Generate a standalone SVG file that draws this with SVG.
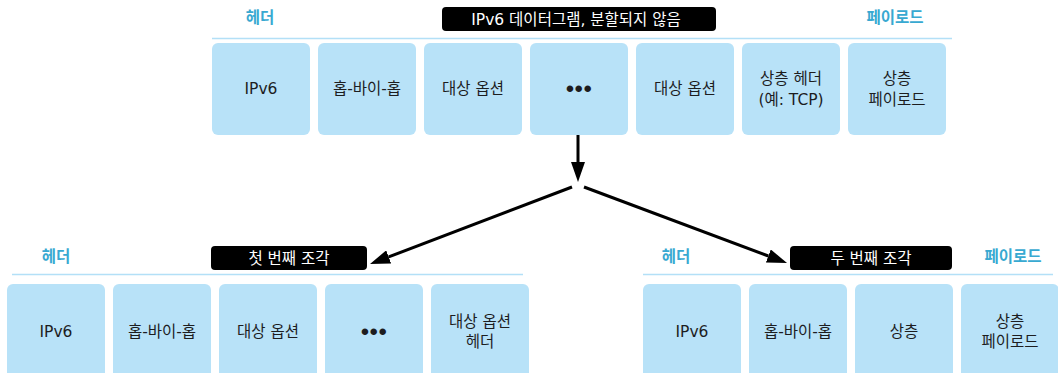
<svg xmlns="http://www.w3.org/2000/svg" width="1058" height="373" viewBox="0 0 1058 373">
<style>
.box{fill:#b8e2f8;}
.bt{font-family:"DejaVu Sans","Noto Sans CJK KR",sans-serif;font-size:15.5px;fill:#1d1d1f;text-anchor:middle;}
.dots{font-family:"Liberation Sans",sans-serif;font-size:24px;letter-spacing:0.5px;fill:#1d1d1f;text-anchor:middle;}
.hd{font-family:"Liberation Sans","Noto Sans CJK KR",sans-serif;font-size:15.5px;font-weight:bold;fill:#38a9d1;text-anchor:middle;}
.rule{stroke:#b3e0f7;stroke-width:1.5;fill:none;}
.tag{fill:#000;}
.tt{font-family:"DejaVu Sans","Noto Sans CJK KR",sans-serif;font-size:15.5px;fill:#fff;text-anchor:middle;}
.arr{stroke:#000;stroke-width:3;fill:none;marker-end:url(#ah);}
</style>
<defs>
<marker id="ah" markerUnits="userSpaceOnUse" markerWidth="20" markerHeight="14" viewBox="0 -7 20 14" refX="0" refY="0" orient="auto">
<path d="M0,-7 L20,0 L0,7 z" fill="#000"/>
</marker>
</defs>
<rect width="1058" height="373" fill="#fff"/>

<g id="top-header">
<text class="hd" x="260" y="23">헤더</text>
<text class="hd" x="895" y="23">페이로드</text>
<line class="rule" x1="212" y1="38.5" x2="952" y2="38.5"/>
<rect class="tag" x="442" y="7" width="274" height="24" rx="4"/>
<text class="tt" x="576" y="24.5">IPv6 데이터그램, 분할되지 않음</text>
</g>
<g id="t1"><rect class="box" x="212" y="43" width="98" height="92" rx="6"/><text class="bt" x="261" y="94">IPv6</text></g>
<g id="t2"><rect class="box" x="318" y="43" width="98" height="92" rx="6"/><text class="bt" x="367" y="94">홉-바이-홉</text></g>
<g id="t3"><rect class="box" x="424" y="43" width="98" height="92" rx="6"/><text class="bt" x="473" y="94">대상 옵션</text></g>
<g id="t4"><rect class="box" x="530" y="43" width="98" height="92" rx="6"/><text class="dots" x="579" y="97">•••</text></g>
<g id="t5"><rect class="box" x="636" y="43" width="98" height="92" rx="6"/><text class="bt" x="685" y="94">대상 옵션</text></g>
<g id="t6"><rect class="box" x="742" y="43" width="98" height="92" rx="6"/><text class="bt" x="791" y="84">상층 헤더</text><text class="bt" x="791" y="105">(예: TCP)</text></g>
<g id="t7"><rect class="box" x="848" y="43" width="98" height="92" rx="6"/><text class="bt" x="897" y="84">상층</text><text class="bt" x="897" y="105">페이로드</text></g>

<g id="left-header">
<text class="hd" x="56" y="262">헤더</text>
<line class="rule" x1="12" y1="274.5" x2="523" y2="274.5"/>
<rect class="tag" x="211" y="246" width="156" height="24" rx="4"/>
<text class="tt" x="289" y="263.5">첫 번째 조각</text>
</g>
<g id="l1"><rect class="box" x="7" y="284" width="98" height="100" rx="6"/><text class="bt" x="56" y="337">IPv6</text></g>
<g id="l2"><rect class="box" x="113" y="284" width="98" height="100" rx="6"/><text class="bt" x="162" y="337">홉-바이-홉</text></g>
<g id="l3"><rect class="box" x="219" y="284" width="98" height="100" rx="6"/><text class="bt" x="268" y="337">대상 옵션</text></g>
<g id="l4"><rect class="box" x="325" y="284" width="98" height="100" rx="6"/><text class="dots" x="374" y="340">•••</text></g>
<g id="l5"><rect class="box" x="431" y="284" width="98" height="100" rx="6"/><text class="bt" x="480" y="327">대상 옵션</text><text class="bt" x="480" y="347">헤더</text></g>

<g id="right-header">
<text class="hd" x="676" y="262">헤더</text>
<text class="hd" x="1013" y="262">페이로드</text>
<line class="rule" x1="643" y1="274.5" x2="1053" y2="274.5"/>
<rect class="tag" x="790" y="246" width="162" height="24" rx="4"/>
<text class="tt" x="871" y="263.5">두 번째 조각</text>
</g>
<g id="r1"><rect class="box" x="643" y="284" width="98" height="100" rx="6"/><text class="bt" x="692" y="337">IPv6</text></g>
<g id="r2"><rect class="box" x="749" y="284" width="98" height="100" rx="6"/><text class="bt" x="798" y="337">홉-바이-홉</text></g>
<g id="r3"><rect class="box" x="855" y="284" width="98" height="100" rx="6"/><text class="bt" x="904" y="337">상층</text></g>
<g id="r4"><rect class="box" x="961" y="284" width="98" height="100" rx="6"/><text class="bt" x="1010" y="327">상층</text><text class="bt" x="1010" y="347">페이로드</text></g>

<g id="connectors">
<line class="arr" x1="578" y1="135" x2="578" y2="162"/>
<line class="arr" x1="572" y1="187" x2="388.7" y2="256.9"/>
<line class="arr" x1="584" y1="187" x2="768.3" y2="256"/>
</g>
</svg>
